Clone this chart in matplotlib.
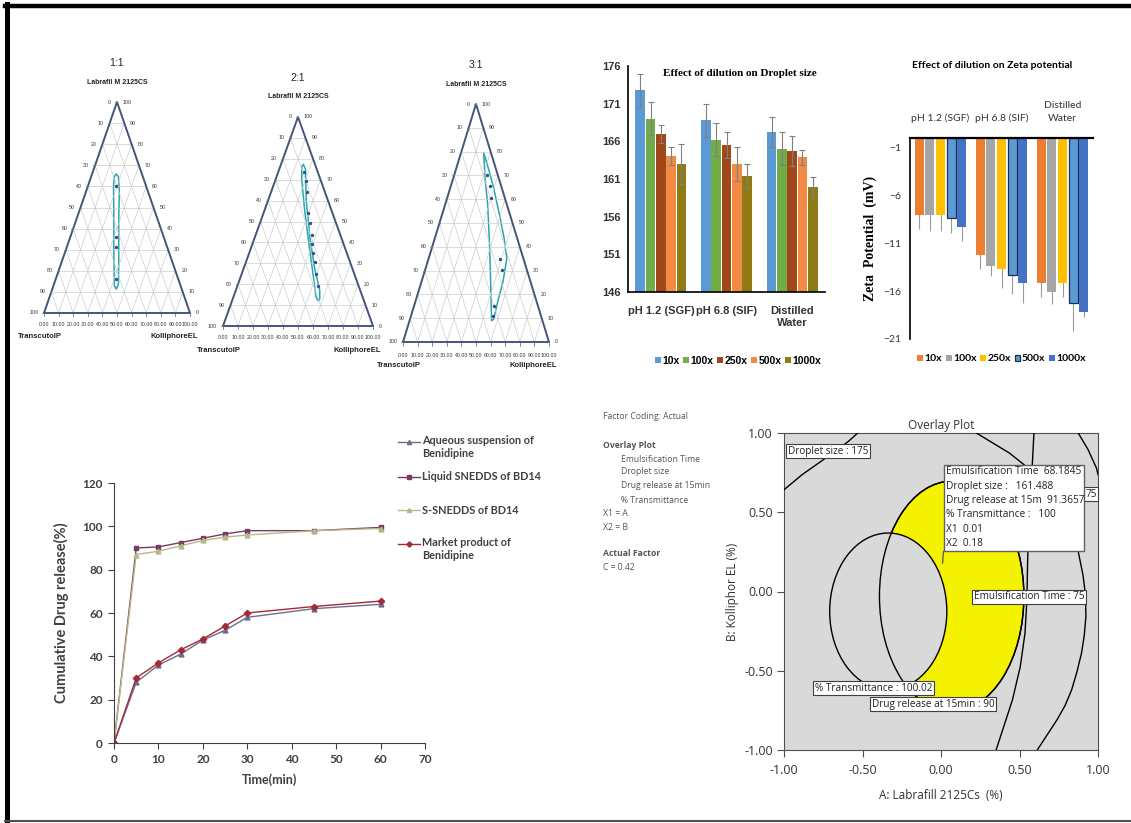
import numpy as np
import matplotlib.pyplot as plt
from matplotlib import font_manager
from matplotlib.lines import Line2D
from matplotlib.patches import Ellipse, Polygon, Rectangle

# ---------------- data ----------------
# ternary diagrams: points in each triangle's own frame (corners (0,0), (1,0), apex (0.5,1))
tern_titles = ['1:1', '2:1', '3:1']
loop_11 = [(0.494, 0.66), (0.51, 0.645), (0.516, 0.58), (0.512, 0.45), (0.512, 0.25),
           (0.51, 0.14), (0.496, 0.112), (0.482, 0.13), (0.478, 0.3), (0.478, 0.5),
           (0.476, 0.60), (0.482, 0.645)]
dots_11 = [(0.494, 0.604), (0.494, 0.361), (0.494, 0.313), (0.494, 0.160)]
loop_21 = [(0.535, 0.775), (0.55, 0.75), (0.555, 0.6), (0.58, 0.42), (0.61, 0.28),
           (0.645, 0.17), (0.645, 0.13), (0.635, 0.12), (0.62, 0.14), (0.6, 0.25),
           (0.575, 0.38), (0.545, 0.55), (0.525, 0.7), (0.525, 0.76)]
dots_21 = [(0.542, 0.736), (0.554, 0.693), (0.558, 0.643), (0.569, 0.543), (0.580, 0.493),
           (0.592, 0.436), (0.592, 0.393), (0.603, 0.350), (0.614, 0.307), (0.621, 0.250),
           (0.636, 0.193)]
loop_31 = [(0.553, 0.795), (0.587, 0.725), (0.621, 0.647), (0.661, 0.534), (0.693, 0.435),
           (0.711, 0.350), (0.684, 0.251), (0.648, 0.167), (0.621, 0.096), (0.607, 0.089),
           (0.603, 0.181), (0.598, 0.308), (0.591, 0.435), (0.580, 0.576), (0.562, 0.689)]
dots_31 = [(0.576, 0.703), (0.594, 0.654), (0.603, 0.605), (0.661, 0.350), (0.677, 0.301),
           (0.625, 0.153), (0.616, 0.110)]

dilutions = ['10x', '100x', '250x', '500x', '1000x']
media_ds = ['pH 1.2 (SGF)', 'pH 6.8 (SIF)', 'Distilled\nWater']
droplet = [[172.8, 168.8, 167.2],
           [169.0, 166.2, 165.0],
           [167.0, 165.5, 164.7],
           [164.0, 163.0, 163.9],
           [163.0, 161.4, 159.9]]
droplet_err = [[2.2, 2.2, 2.0],
               [2.2, 2.2, 2.2],
               [1.2, 1.7, 2.0],
               [1.2, 2.2, 1.0],
               [2.6, 1.6, 1.4]]

media_zp = ['pH 1.2 (SGF)', 'pH 6.8 (SIF)', 'Distilled\nWater']
zeta = [[-8.0, -12.2, -15.1],
        [-8.0, -13.4, -16.1],
        [-8.0, -13.7, -15.1],
        [-8.4, -14.3, -17.2],
        [-9.3, -15.2, -18.2]]
zeta_err = [[1.5, 1.5, 1.5],
            [1.7, 1.0, 1.2],
            [1.7, 2.0, 1.5],
            [1.5, 2.0, 3.0],
            [1.5, 2.0, 0.5]]

time_min = [0, 5, 10, 15, 20, 25, 30, 45, 60]
rel_aqueous = [0, 28, 36, 41, 47.5, 52, 58, 62, 64]
rel_liquid = [0, 90, 90.5, 92.5, 94.5, 96.5, 98, 98, 99.5]
rel_solid = [0, 87, 88.5, 91, 93.5, 95, 96, 98, 99]
rel_market = [0, 30, 37, 43, 48, 54, 60, 63, 65.5]
rel_names = ['Aqueous suspension of\nBenidipine', 'Liquid SNEDDS of BD14',
             'S-SNEDDS of BD14', 'Market product of\nBenidipine']

# overlay plot (coded factors -1..1)
transm_ell = (-0.336, -0.126, 0.746, 0.99)     # centre x, centre y, width, height
drug90_ell = (0.068, -0.03, 0.92, 1.452)
droplet175_x = [-1.0, -0.885, -0.78, -0.675, -0.59, -0.53]
droplet175_y = [0.642, 0.737, 0.81, 0.884, 0.947, 1.0]
toparc_x = [0.225, 0.33, 0.435, 0.529, 0.60]
toparc_y = [1.0, 0.937, 0.874, 0.80, 0.70]
emul75_x = [0.592, 0.581, 0.570, 0.560, 0.552, 0.547, 0.535, 0.505, 0.455, 0.351]
emul75_y = [1.0, 0.789, 0.6, 0.474, 0.2, -0.053, -0.263, -0.474, -0.684, -1.0]
right2_x = [0.864, 0.874, 0.905, 0.920, 0.923, 0.912, 0.895, 0.865, 0.832, 0.790, 0.738, 0.613]
right2_y = [0.284, 0.253, 0.10, -0.02, -0.158, -0.28, -0.389, -0.51, -0.621, -0.72, -0.811, -1.0]
right3_x = [0.874, 0.937, 0.99, 1.0]
right3_y = [1.0, 0.895, 0.779, 0.737]
info_lines = ['Emulsification Time  68.1845', 'Droplet size :   161.488',
              'Drug release at 15m  91.3657', '% Transmittance :   100',
              'X1  0.01', 'X2  0.18']
flag_x, flag_y = 0.01, 0.18

W, H = 1131, 823
names = {f.name for f in font_manager.fontManager.ttflist}
NARROW = 'Liberation Sans Narrow' if 'Liberation Sans Narrow' in names else 'Liberation Sans'


def box(l, t, r, b):
    return [l / W, 1 - b / H, (r - l) / W, (b - t) / H]


fig = plt.figure(figsize=(W / 100, H / 100), dpi=100)

# frame around the composite
fig.add_artist(Line2D([5 / W, 1], [1 - 6 / H, 1 - 6 / H], color='black', lw=3.2))
fig.add_artist(Line2D([7 / W, 7 / W], [1 - 4 / H, 1 - 821 / H], color='black', lw=3.6))
fig.add_artist(Line2D([5 / W, 1], [1 - 821 / H, 1 - 821 / H], color='#505050', lw=1.5))

# ---------------- ternary diagrams ----------------
tedge = '#45557a'
tgrid = '#cdcdcd'
loopc = '#2aa6b0'


def ternary(rect, title, loop, dots):
    ax = fig.add_axes(rect)
    ax.set_xlim(0, 1)
    ax.set_ylim(0, 1)
    ax.axis('off')
    for i in range(1, 10):
        f = i / 10
        ax.plot([f / 2, 1 - f / 2], [f, f], color=tgrid, lw=0.5)
        ax.plot([f, (1 + f) / 2], [0, 1 - f], color=tgrid, lw=0.5)
        ax.plot([f, f / 2], [0, f], color=tgrid, lw=0.5)
    ax.plot([0, 0.5, 1, 0], [0, 1, 0, 0], color=tedge, lw=1.4, clip_on=False)
    fs = dict(family=NARROW, size=3.8, color='#333333', clip_on=False)
    for i in range(11):
        f = i / 10
        ax.text(f / 2 - 0.04, f, str(100 - i * 10), ha='right', va='center', **fs)
        ax.text(1 - f / 2 + 0.04, f, str(i * 10), ha='left', va='center', **fs)
        ax.text(f, -0.055, '%.2f' % (i * 10), ha='center', va='center', **fs)
        ax.plot([f, f], [0, -0.015], color=tedge, lw=0.5, clip_on=False)
        ax.plot([f / 2 - 0.012, f / 2], [f, f], color='#6a9a3a', lw=0.6, clip_on=False)
    ax.add_patch(Polygon(loop, closed=True, fill=False, ec=loopc, lw=1.1))
    ax.scatter([p[0] for p in dots], [p[1] for p in dots], s=2, color='#2f4f8f', zorder=3)
    ax.annotate(title, (0.5, 1), xytext=(0, 39), textcoords='offset pixels',
                ha='center', va='center', family=NARROW, size=7.5, color='#222222')
    ax.annotate('Labrafil M 2125CS', (0.5, 1), xytext=(0, 20), textcoords='offset pixels',
                ha='center', va='center', family=NARROW, size=5, weight='bold', color='#222222')
    ax.annotate('TranscutolP', (0, 0), xytext=(-4, -24), textcoords='offset pixels',
                ha='center', va='center', family=NARROW, size=5.5, weight='bold', color='#222222')
    ax.annotate('KolliphoreEL', (1, 0), xytext=(-16, -24), textcoords='offset pixels',
                ha='center', va='center', family=NARROW, size=5.5, weight='bold', color='#222222')


ternary(box(44, 102, 190, 313), tern_titles[0], loop_11, dots_11)
ternary(box(223, 117, 373, 326), tern_titles[1], loop_21, dots_21)
ternary(box(403, 104, 549, 342), tern_titles[2], loop_31, dots_31)

# ---------------- droplet size bars ----------------
ds_colors = ['#5b9bd5', '#70ad47', '#a0481a', '#f08a45', '#8f7a14']
ax = fig.add_axes(box(628, 66, 825, 292))
x = np.arange(len(media_ds))
for k in range(len(dilutions)):
    pos = x + (k - 2) * 0.157
    ax.bar(pos, droplet[k], 0.145, color=ds_colors[k], label=dilutions[k])
    ax.errorbar(pos, droplet[k], yerr=droplet_err[k], fmt='none', ecolor='#808080',
                elinewidth=0.8, capsize=2, capthick=0.8)
ax.set_ylim(146, 176)
ax.set_xlim(-0.5, 2.5)
ax.set_yticks(range(146, 177, 5))
ax.set_xticks(x, media_ds)
for s in ['top', 'right']:
    ax.spines[s].set_visible(False)
for s in ['left', 'bottom']:
    ax.spines[s].set_linewidth(1.2)
ax.tick_params(axis='y', length=0, pad=5)
ax.tick_params(axis='x', length=0, pad=10)
for t in ax.get_yticklabels() + ax.get_xticklabels():
    t.set_family(NARROW)
    t.set_weight('bold')
    t.set_size(8)
    t.set_color('#333333')
    t.set_linespacing(1.3)
ax.text(0.57, 0.985, 'Effect of dilution on Droplet size', transform=ax.transAxes,
        ha='center', va='top', family='Liberation Serif', weight='bold', size=8)
ax.legend(loc='upper center', bbox_to_anchor=(0.56, -0.24), ncol=5, frameon=False,
          handlelength=0.55, handleheight=0.55, handletextpad=0.15, columnspacing=0.35,
          prop=dict(family=NARROW, weight='bold', size=7.5))

# ---------------- zeta potential bars ----------------
zp_colors = ['#ed7d31', '#a5a5a5', '#ffc000', '#5b9bd5', '#4472c4']
ax = fig.add_axes(box(910, 138, 1093, 339))
for k in range(len(dilutions)):
    pos = x + (k - 2) * 0.175
    ax.errorbar(pos, zeta[k], yerr=zeta_err[k], fmt='none', ecolor='#9a9a9a', elinewidth=0.8)
    ax.bar(pos, zeta[k], 0.15, color=zp_colors[k], label=dilutions[k],
           edgecolor='#1f2f4f' if k == 3 else 'none', linewidth=0.9, zorder=2)
ax.set_ylim(-21, 0)
ax.set_xlim(-0.5, 2.5)
ax.set_yticks([-1, -6, -11, -16, -21])
ax.xaxis.tick_top()
ax.set_xticks(x, media_zp)
for s in ['bottom', 'right']:
    ax.spines[s].set_visible(False)
ax.spines['top'].set_linewidth(1.6)
ax.spines['left'].set_linewidth(1.2)
ax.tick_params(axis='y', length=0, pad=6)
ax.tick_params(axis='x', length=0, pad=11)
for t in ax.get_yticklabels() + ax.get_xticklabels():
    t.set_family('Lato')
    t.set_size(7.5)
    t.set_color('#333333')
    t.set_linespacing(1.6)
ax.set_ylabel('Zeta  Potential  (mV)', family='Liberation Serif', weight='bold', size=10,
              labelpad=5)
ax.text(0.45, 1.36, 'Effect of dilution on Zeta potential', transform=ax.transAxes,
        ha='center', va='center', family='Lato', weight='bold', size=7.5)
ax.legend(loc='upper center', bbox_to_anchor=(0.5, -0.03), ncol=5, frameon=False,
          handlelength=0.55, handleheight=0.55, handletextpad=0.15, columnspacing=0.35,
          prop=dict(family='Lato', weight='bold', size=7.5))

# ---------------- drug release ----------------
ax = fig.add_axes(box(114, 483, 425, 743))
styles = [('#6f6d8f', '^', 3.5), ('#7a3b62', 's', 3.2), ('#b7b78c', '^', 3.5), ('#a32b35', 'D', 3.2)]
series = [rel_aqueous, rel_liquid, rel_solid, rel_market]
for vals, (c, m, ms) in zip(series, styles):
    ax.plot(time_min, vals, color=c, marker=m, ms=ms, lw=1.0)
ax.set_xlim(0, 70)
ax.set_ylim(0, 120)
ax.set_xticks(range(0, 71, 10))
ax.set_yticks(range(0, 121, 20))
for s in ['top', 'right']:
    ax.spines[s].set_visible(False)
for s in ['left', 'bottom']:
    ax.spines[s].set_color('#404040')
ax.tick_params(direction='out', length=4, color='#404040', pad=4)
for t in ax.get_yticklabels() + ax.get_xticklabels():
    t.set_family('Lato')
    t.set_weight('bold')
    t.set_size(8.5)
    t.set_color('#404040')
ax.set_ylabel('Cumulative Drug release(%)', family='Lato', weight='bold', size=10.5,
              color='#404040', labelpad=10)
ax.set_xlabel('Time(min)', family='Lato', weight='bold', size=9, color='#404040', labelpad=6)
leg_y = [442, 477, 510, 544]
for (c, m, ms), name, yy in zip(styles, rel_names, leg_y):
    fy = 1 - yy / H
    fig.add_artist(Line2D([398 / W, 420 / W], [fy, fy], color=c, lw=1.0))
    fig.add_artist(Line2D([409 / W], [fy], color=c, marker=m, ms=ms - 0.5))
    two = '\n' in name
    fig.text(422 / W, fy + (7 / H if two else 0), name, ha='left',
             va='top' if two else 'center', family='Lato', weight='bold',
             size=7.8, color='#404040', linespacing=1.25)

# ---------------- design-expert legend text ----------------
info_left = [('Factor Coding: Actual', 603, 417, 'normal'),
             ('Overlay Plot', 603, 445, 'bold'),
             ('Emulsification Time', 621, 459, 'normal'),
             ('Droplet size', 621, 472, 'normal'),
             ('Drug release at 15min', 621, 486, 'normal'),
             ('% Transmittance', 621, 500, 'normal'),
             ('X1 = A', 603, 513, 'normal'),
             ('X2 = B', 603, 527, 'normal'),
             ('Actual Factor', 603, 554, 'bold'),
             ('C = 0.42', 603, 568, 'normal')]
for s, px, py, wt in info_left:
    fig.text(px / W, 1 - py / H, s, ha='left', va='center', family='Open Sans',
             size=6.2, weight=wt, color='#555555')

# ---------------- overlay plot ----------------
ax = fig.add_axes(box(784, 433, 1098, 750))
ax.set_facecolor('#d9d9d9')
ax.set_xlim(-1, 1)
ax.set_ylim(-1, 1)
cx, cy, ew, eh = drug90_ell
ax.add_patch(Ellipse((cx, cy), ew, eh, fc='#f5f200', ec='black', lw=1.0, zorder=1))
cx, cy, ew, eh = transm_ell
ax.add_patch(Ellipse((cx, cy), ew, eh, fc='#d9d9d9', ec='black', lw=1.0, zorder=2))
cx, cy, ew, eh = drug90_ell
ax.add_patch(Ellipse((cx, cy), ew, eh, fc='none', ec='black', lw=1.0, zorder=3))
for xs, ys in [(droplet175_x, droplet175_y), (toparc_x, toparc_y), (emul75_x, emul75_y),
               (right2_x, right2_y), (right3_x, right3_y)]:
    ax.plot(xs, ys, color='black', lw=1.0, zorder=3)
lab = dict(ha='center', va='center', family='Open Sans', size=7.2, color='#222222', zorder=6,
           bbox=dict(boxstyle='square,pad=0.15', fc='white', ec='#404040', lw=0.8))
ax.text(-0.72, 0.885, 'Droplet size : 175', **lab)
ax.text(0.56, -0.034, 'Emulsification Time : 75', **lab)
ax.text(-0.43, -0.61, '% Transmittance : 100.02', **lab)
ax.text(-0.05, -0.71, 'Drug release at 15min : 90', **lab)
ax.text(0.955, 0.612, '75', **lab)
ax.add_patch(Rectangle((0.016, 0.253), 0.896, 0.547, fc='white', ec='#606060', lw=1.0, zorder=7))
ax.plot([0.016, flag_x], [0.253, flag_y], color='#606060', lw=1.0, zorder=7)
ax.text(0.03, 0.79, '\n'.join(info_lines), ha='left', va='top', family='Open Sans',
        size=7.3, linespacing=1.42, color='#222222', zorder=8)
ax.set_xticks([-1, -0.5, 0, 0.5, 1], ['-1.00', '-0.50', '0.00', '0.50', '1.00'])
ax.set_yticks([-1, -0.5, 0, 0.5, 1], ['-1.00', '-0.50', '0.00', '0.50', '1.00'])
for s in ax.spines.values():
    s.set_color('#505050')
ax.tick_params(direction='out', length=5, color='#505050', pad=3)
ax.tick_params(axis='x', pad=5)
for t in ax.get_yticklabels() + ax.get_xticklabels():
    t.set_family('Open Sans')
    t.set_size(9)
    t.set_color('#333333')
ax.set_title('Overlay Plot', family='Open Sans', size=8.5, color='#333333', pad=3)
ax.set_xlabel('A: Labrafill 2125Cs  (%)', family='Open Sans', size=8.5, color='#333333', labelpad=9)
ax.set_ylabel('B: Kolliphor EL (%)', family='Open Sans', size=8.5, color='#333333', labelpad=4)

fig.savefig('out.png', dpi=100)
